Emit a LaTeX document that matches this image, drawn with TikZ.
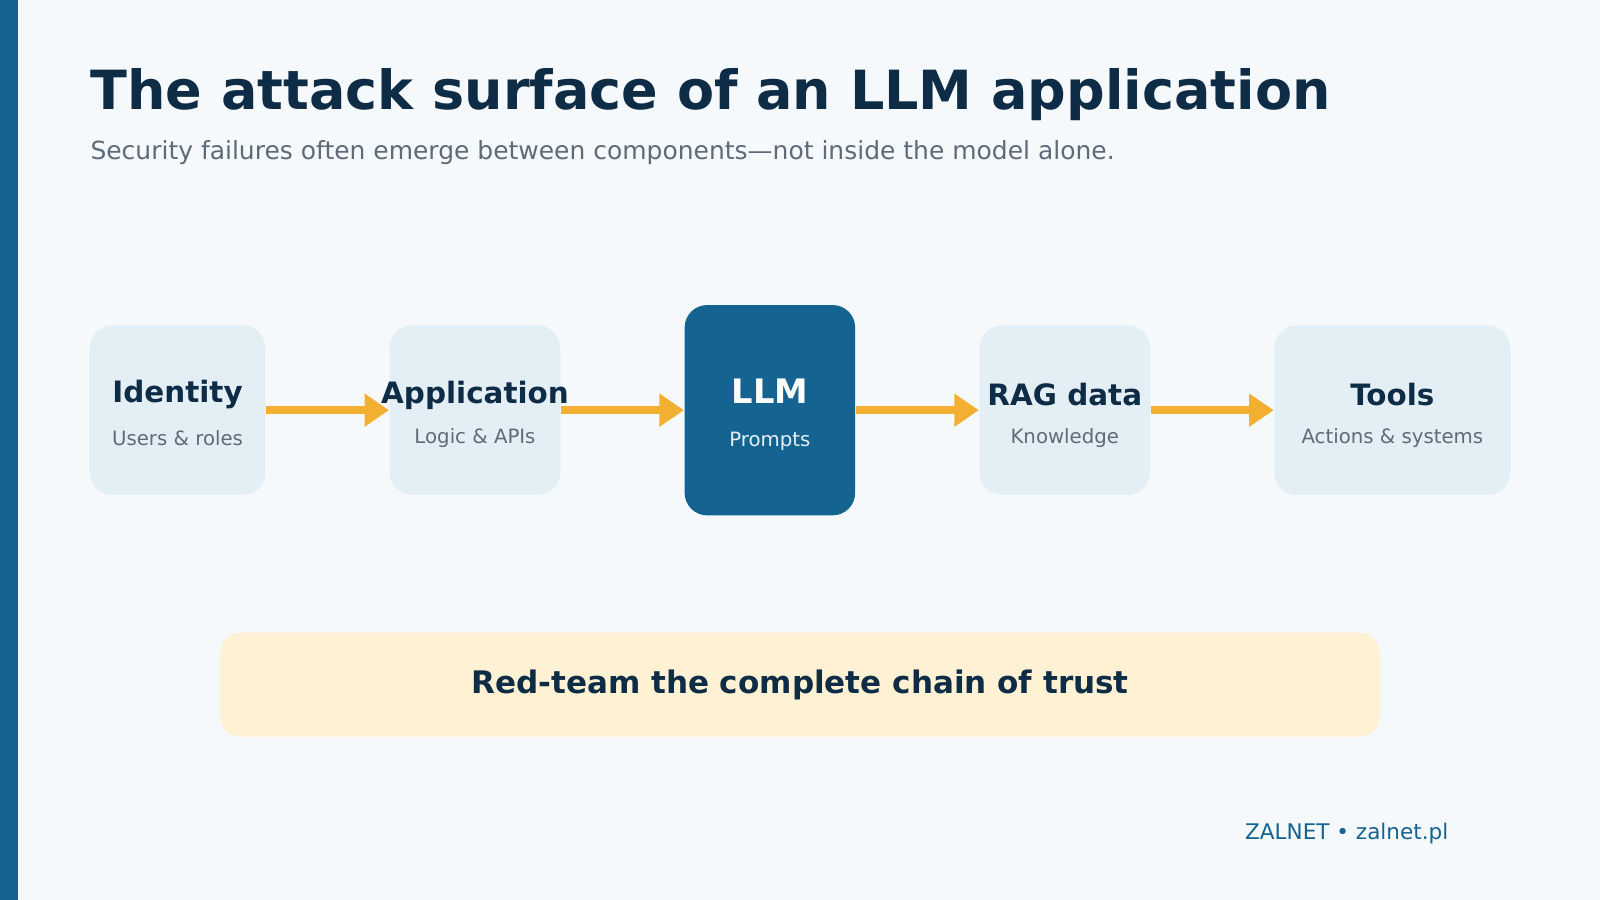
\documentclass[tikz,border=0pt]{standalone}
\usepackage{fontspec}
\setmainfont{DejaVu Sans}
\usetikzlibrary{arrows.meta}
\definecolor{bgc}{HTML}{F5F9FB}
\definecolor{navy}{HTML}{0E2C45}
\definecolor{bluec}{HTML}{146391}
\definecolor{boxc}{HTML}{E3EFF5}
\definecolor{greyc}{HTML}{5F6B78}
\definecolor{gold}{HTML}{F3AF32}
\definecolor{creamc}{HTML}{FFF2D4}
\tikzset{
  stage/.style={fill=boxc,rounded corners=.22cm,minimum height=1.66cm,align=center,inner sep=0pt},
  flow/.style={line width=.08cm,draw=gold,-{Triangle[length=.24cm,width=.31cm]}}
}
\begin{document}
\begin{tikzpicture}[x=.01cm,y=-.01cm]
\useasboundingbox (0,0) rectangle (1568,882);
\fill[bgc] (0,0) rectangle (1568,882);
\fill[bluec] (0,0) rectangle (18,882);
% heading
\node[anchor=base west,font=\fontsize{15.05}{17}\selectfont\bfseries,text=navy,inner sep=0pt] (title) at (88,107) {The attack surface of an LLM application};
\node[anchor=base west,font=\fontsize{6.96}{8}\selectfont,text=greyc,inner sep=0pt] (sub) at (88,156) {Security failures often emerge between components—not inside the model alone.};
% chain
\node[stage,minimum width=1.72cm] (id) at (174,402) {};
\node[stage,minimum width=1.67cm] (app) at (465.5,402) {};
\node[stage,fill=bluec,minimum width=1.67cm,minimum height=2.06cm] (llm) at (754.5,402) {};
\node[stage,minimum width=1.67cm] (rag) at (1043.5,402) {};
\node[stage,minimum width=2.31cm] (tools) at (1364.5,402) {};
\foreach \n/\t/\s in {id/Identity/Users \& roles,app/Application/Logic \& APIs,rag/RAG data/Knowledge,tools/Tools/Actions \& systems}{
  \node[font=\fontsize{8.2}{10}\selectfont\bfseries,text=navy] at ([yshift=.15cm]\n.center) {\t};
  \node[font=\fontsize{5.5}{7}\selectfont,text=greyc] at ([yshift=-.27cm]\n.center) {\s};
}
\node[font=\fontsize{9.4}{11}\selectfont\bfseries,text=white] at ([yshift=.19cm]llm.center) {LLM};
\node[font=\fontsize{5.5}{7}\selectfont,text=boxc] at ([yshift=-.31cm]llm.center) {Prompts};
\draw[flow] (id) -- (app);
\draw[flow] (app) -- (llm);
\draw[flow] (llm) -- (rag);
\draw[flow] (rag) -- (tools);
% banner
\node[fill=creamc,rounded corners=.2cm,minimum width=11.36cm,minimum height=1.02cm,font=\fontsize{8.65}{10}\selectfont\bfseries,text=navy] (msg) at (784,671) {Red-team the complete chain of trust};
\node[anchor=base east,font=\fontsize{6}{7}\selectfont,text=bluec,inner sep=0pt] (foot) at (1420,823) {ZALNET • zalnet.pl};
\end{tikzpicture}
\end{document}
